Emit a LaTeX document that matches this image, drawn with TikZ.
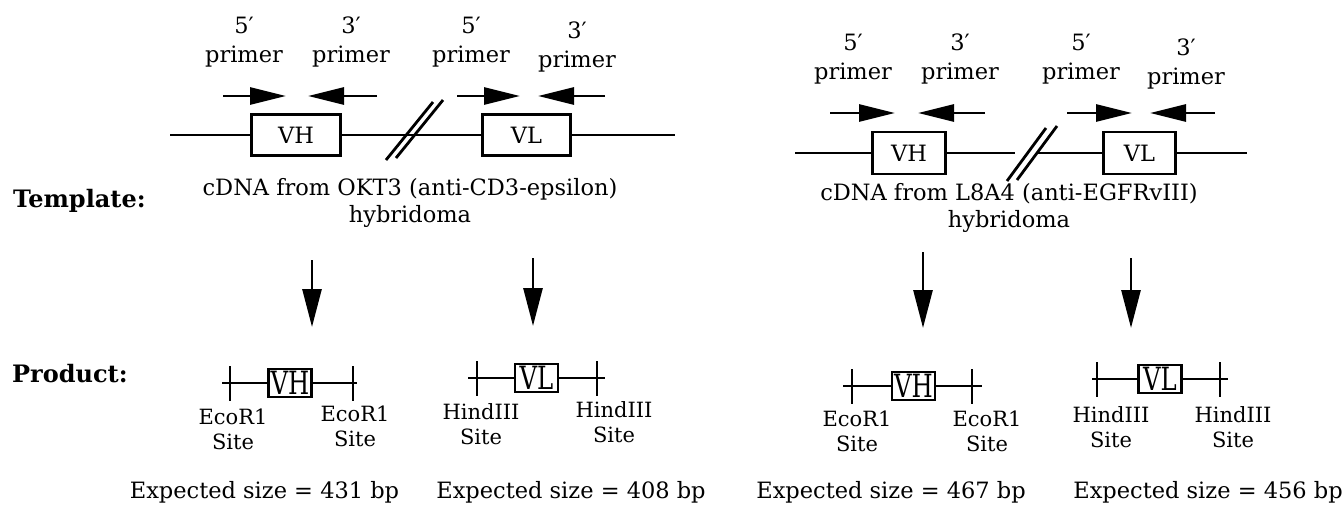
\documentclass[tikz,border=0pt]{standalone}
\usepackage{fontspec}
\usepackage{graphicx}
\setmainfont{DejaVu Serif}
\usetikzlibrary{arrows.meta}

\newcommand{\bigtxt}{\fontsize{22.5}{29}\selectfont}
\newcommand{\headtxt}{\fontsize{24}{29}\selectfont\bfseries}
\newcommand{\srctxt}{\fontsize{22.5}{27}\selectfont}
\newcommand{\sitetxt}{\fontsize{21}{25.5}\selectfont}
\newcommand{\tallbox}[1]{\scalebox{0.76}[1]{\fontsize{32}{32}\selectfont #1}}

\begin{document}
\begin{tikzpicture}[x=1pt,y=-1pt,
  dna/.style={line width=2.8pt},
  brk/.style={line width=2.8pt},
  gene/.style={draw, line width=2.8pt, inner sep=0pt, font=\bigtxt},
  prod/.style={draw, line width=2.6pt, inner sep=0pt, minimum width=43pt, minimum height=28pt},
  sitemark/.style={fill, inner sep=0pt, minimum width=2.8pt, minimum height=35pt},
  primer/.style={line width=2.8pt, -{Triangle[length=36pt,width=17pt]}},
  flow/.style={line width=2.8pt, -{Triangle[length=38pt,width=19pt]}},
  lbl/.style={inner sep=0pt, align=center, font=\bigtxt, anchor=south},
  sitelbl/.style={inner sep=0pt, align=center, font=\sitetxt, anchor=south},
  txt/.style={inner sep=0pt, font=\bigtxt, anchor=base},
]
\useasboundingbox (0,0) rectangle (1344,507);

% row titles
\node[txt, anchor=base west, font=\headtxt] (tmpl) at (13,207) {Template:};
\node[txt, anchor=base west, font=\headtxt] (prodt) at (12,382) {Product:};

% ---- OKT3 template
\node[gene, minimum width=89pt, minimum height=41pt] (vh1) at (296,135) {VH};
\node[gene, minimum width=88pt, minimum height=41pt] (vl1) at (526.5,135) {VL};
\coordinate (dl1) at (170,135);
\coordinate (dl2) at (675,135);
\draw[dna] (dl1) -- (vh1) -- (vl1) -- (dl2);
\coordinate (bl1) at (386,160);
\coordinate (bl2) at (433,102);
\coordinate (bl3) at (396,158);
\coordinate (bl4) at (443,100);
\draw[brk] (bl1) -- (bl2);
\draw[brk] (bl3) -- (bl4);

\node[lbl] (lp1) at (244,67) {5′\\primer};
\node[lbl] (lp2) at (351,67) {3′\\primer};
\node[lbl] (lp3) at (471,67) {5′\\primer};
\node[lbl] (lp4) at (577,72) {3′\\primer};
\coordinate (la1) at (223,96);
\coordinate (la2) at (286,96);
\coordinate (la3) at (377,96);
\coordinate (la4) at (308,96);
\coordinate (la5) at (457,96);
\coordinate (la6) at (520,96);
\coordinate (la7) at (605,96);
\coordinate (la8) at (538,96);
\draw[primer] (la1) -- (la2);
\draw[primer] (la3) -- (la4);
\draw[primer] (la5) -- (la6);
\draw[primer] (la7) -- (la8);

\node[lbl, font=\srctxt] (src1) at (410,228) {cDNA from OKT3 (anti-CD3-epsilon)\\hybridoma};

% ---- L8A4 template
\node[gene, minimum width=73pt, minimum height=42pt] (vh2) at (909,153) {VH};
\node[gene, minimum width=72pt, minimum height=42pt] (vl2) at (1139.5,153) {VL};
\coordinate (dr1) at (795,153);
\coordinate (dr2) at (1015,153);
\coordinate (dr3) at (1037,153);
\coordinate (dr4) at (1247,153);
\draw[dna] (dr1) -- (vh2) -- (dr2);
\draw[dna] (dr3) -- (vl2) -- (dr4);
\coordinate (br1) at (1007,181);
\coordinate (br2) at (1046,128);
\coordinate (br3) at (1017,180);
\coordinate (br4) at (1057,126);
\draw[brk] (br1) -- (br2);
\draw[brk] (br3) -- (br4);

\node[lbl] (rp1) at (853,84) {5′\\primer};
\node[lbl] (rp2) at (960,84) {3′\\primer};
\node[lbl] (rp3) at (1081,84) {5′\\primer};
\node[lbl] (rp4) at (1186,89) {3′\\primer};
\coordinate (ra1) at (830,113);
\coordinate (ra2) at (895,113);
\coordinate (ra3) at (985,113);
\coordinate (ra4) at (918,113);
\coordinate (ra5) at (1067,113);
\coordinate (ra6) at (1132,113);
\coordinate (ra7) at (1215,113);
\coordinate (ra8) at (1150,113);
\draw[primer] (ra1) -- (ra2);
\draw[primer] (ra3) -- (ra4);
\draw[primer] (ra5) -- (ra6);
\draw[primer] (ra7) -- (ra8);

\node[lbl, font=\srctxt] (src2) at (1009,233) {cDNA from L8A4 (anti-EGFRvIII)\\hybridoma};

% PCR steps
\coordinate (d1a) at (312,260);
\coordinate (d1b) at (312,327);
\coordinate (d2a) at (533,258);
\coordinate (d2b) at (533,326);
\coordinate (d3a) at (923,252);
\coordinate (d3b) at (923,328);
\coordinate (d4a) at (1131,258);
\coordinate (d4b) at (1131,328);
\draw[flow] (d1a) -- (d1b);
\draw[flow] (d2a) -- (d2b);
\draw[flow] (d3a) -- (d3b);
\draw[flow] (d4a) -- (d4b);

% ---- products
\node[prod] (pvh1) at (290,383) {\tallbox{VH}};
\node[sitemark] (k1) at (230,383) {};
\node[sitemark] (k2) at (353,383) {};
\coordinate (e1) at (222,383);
\coordinate (e2) at (357,383);
\draw[dna] (e1) -- (pvh1) -- (e2);
\node[sitelbl] (sa1) at (233,450) {EcoR1\\Site};
\node[sitelbl] (sa2) at (355,447) {EcoR1\\Site};

\node[prod] (pvl1) at (536.5,378) {\tallbox{VL}};
\node[sitemark] (k3) at (477,378) {};
\node[sitemark] (k4) at (597,378) {};
\coordinate (e3) at (468,378);
\coordinate (e4) at (605,378);
\draw[dna] (e3) -- (pvl1) -- (e4);
\node[sitelbl] (sb1) at (481,445) {HindIII\\Site};
\node[sitelbl] (sb2) at (614,443) {HindIII\\Site};

\node[prod] (pvh2) at (913.5,386) {\tallbox{VH}};
\node[sitemark] (k5) at (852,386) {};
\node[sitemark] (k6) at (972,386) {};
\coordinate (e5) at (843,386);
\coordinate (e6) at (982,386);
\draw[dna] (e5) -- (pvh2) -- (e6);
\node[sitelbl] (sc1) at (857,452) {EcoR1\\Site};
\node[sitelbl] (sc2) at (987,452) {EcoR1\\Site};

\node[prod] (pvl2) at (1160,379) {\tallbox{VL}};
\node[sitemark] (k7) at (1097,379) {};
\node[sitemark] (k8) at (1220,379) {};
\coordinate (e7) at (1092,379);
\coordinate (e8) at (1228,379);
\draw[dna] (e7) -- (pvl2) -- (e8);
\node[sitelbl] (sd1) at (1111,448) {HindIII\\Site};
\node[sitelbl] (sd2) at (1233,448) {HindIII\\Site};

\node[txt] (sz1) at (264.5,498) {Expected size = 431 bp};
\node[txt] (sz2) at (571,498) {Expected size = 408 bp};
\node[txt] (sz3) at (891,498) {Expected size = 467 bp};
\node[txt] (sz4) at (1208,498) {Expected size = 456 bp};
\end{tikzpicture}
\end{document}
